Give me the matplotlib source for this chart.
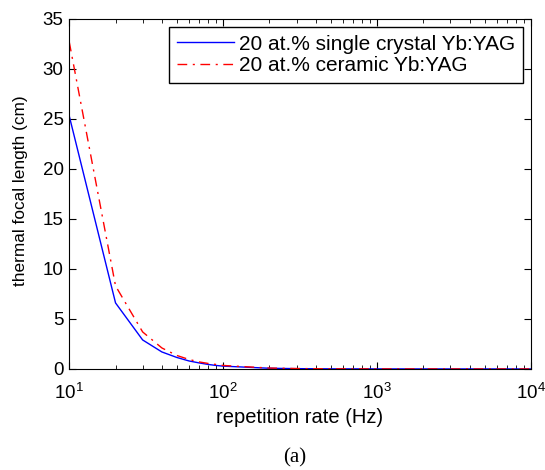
import numpy as np
import matplotlib
matplotlib.use('Agg')
import matplotlib.pyplot as plt

plt.rcParams['font.family'] = ['Liberation Sans', 'DejaVu Sans']
plt.rcParams['mathtext.default'] = 'regular'

# repetition rate (Hz)
rate = [10, 20, 30, 40, 50, 60, 70, 80, 90, 100, 200, 300, 500, 1000, 2000, 5000, 10000]
# thermal focal length (cm)
f_single = [25.3, 6.6, 2.9, 1.7, 1.15, 0.8, 0.6, 0.45, 0.35, 0.28, 0.07, 0.03, 0.01, 0.005, 0.002, 0.001, 0.0]
f_ceramic = [32.7, 8.3, 3.7, 2.1, 1.35, 0.95, 0.7, 0.55, 0.45, 0.35, 0.09, 0.04, 0.015, 0.005, 0.002, 0.001, 0.0]

fig = plt.figure(figsize=(5.45, 4.70), dpi=100)
ax = fig.add_axes([0.127, 0.215, 0.847, 0.745])

ax.plot(rate, f_single, color='#0000ff', lw=1.0, label='20 at.% single crystal Yb:YAG')
ax.plot(rate, f_ceramic, color='#ff0000', lw=1.0, dashes=(7, 4, 1.5, 4),
        label='20 at.% ceramic Yb:YAG')

ax.set_xscale('log')
ax.set_xlim(10, 1e4)
ax.set_ylim(0, 35)
ax.set_yticks(np.arange(0, 36, 5))
ax.tick_params(which='both', direction='in', top=True, right=True, labelsize=13.5)
ax.tick_params(which='major', length=5)
ax.tick_params(which='minor', length=3)
ax.tick_params(axis='x', which='major', pad=10)
ax.tick_params(axis='y', which='major', pad=4)
ax.set_xlabel('repetition rate (Hz)', fontsize=14.5)
ax.set_ylabel('thermal focal length (cm)', fontsize=12.4)
ax.xaxis.set_label_coords(0.5, -0.112)
ax.yaxis.set_label_coords(-0.09, 0.51)

leg = ax.legend(loc='upper right', fontsize=15, fancybox=False, framealpha=1,
                edgecolor='black', borderaxespad=0.38, handlelength=2.7,
                handletextpad=0.25, labelspacing=0.12, borderpad=0.38)
leg.get_frame().set_linewidth(1.0)

fig.text(0.54, 0.026, '(a)', ha='center', va='center', fontsize=15, family='Liberation Serif')

fig.savefig('out.png', dpi=100)
